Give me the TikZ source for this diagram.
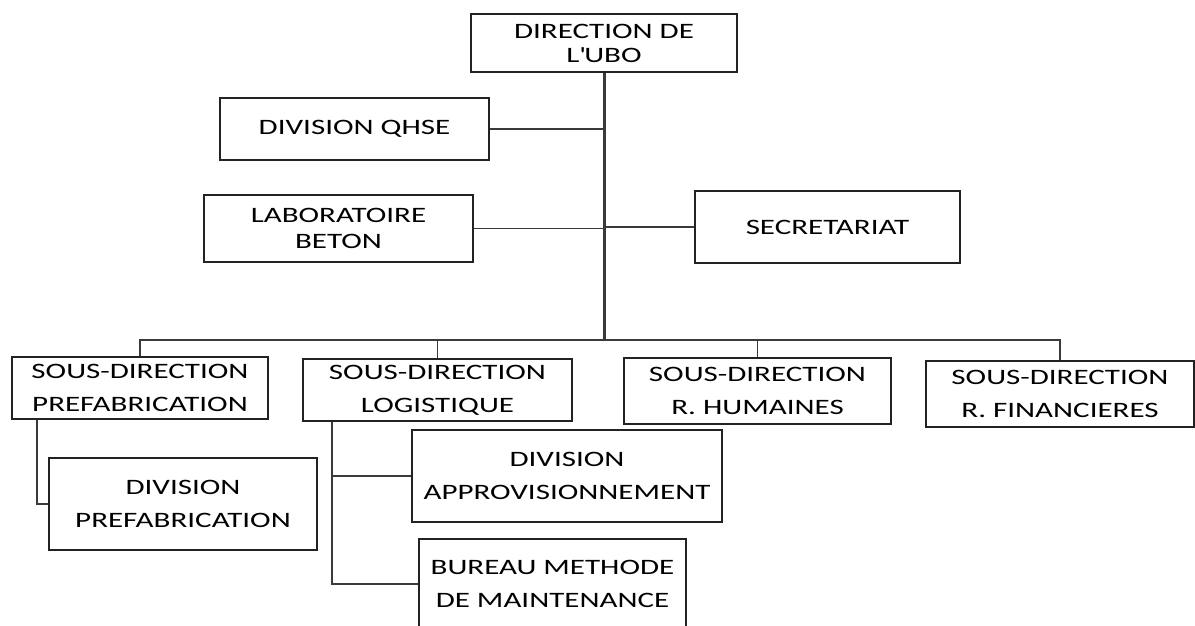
\documentclass[tikz,border=0pt]{standalone}
\usepackage{fontspec}
\newfontfamily\orgfont{Carlito}[FakeStretch=1.41]
\usetikzlibrary{calc}
\definecolor{boxline}{HTML}{222222}
\definecolor{linkline}{HTML}{3A3A3A}
\tikzset{
  orgbox/.style={draw=boxline, line width=1pt, inner sep=0pt, align=center,
    font=\orgfont\fontsize{11}{16.5}\selectfont, text=black},
  link/.style={draw=linkline, line width=0.6pt},
}

\begin{document}
\begin{tikzpicture}[x=0.5pt, y=-0.5pt]
  \clip (0,0) rectangle (1195,626);
  % direction and staff units
  \node[orgbox, minimum width=133pt, minimum height=29pt, font=\orgfont\fontsize{11}{12}\selectfont] (dir) at (604,43) {DIRECTION DE\\L\textquotesingle UBO};
  \node[orgbox, minimum width=134.5pt, minimum height=31pt] (qhse) at (354.5,129) {DIVISION QHSE};
  \node[orgbox, minimum width=134.5pt, minimum height=33.5pt, font=\orgfont\fontsize{11}{13}\selectfont] (labo) at (338.5,228.5) {LABORATOIRE\\BETON};
  \node[orgbox, minimum width=132.5pt, minimum height=36pt] (secr) at (827.5,227) {SECRETARIAT};
  % sub-directions
  \node[orgbox, minimum width=128pt, minimum height=31pt] (sdpre) at (140,388) {SOUS-DIRECTION\\PREFABRICATION};
  \node[orgbox, minimum width=134.5pt, minimum height=31pt] (sdlog) at (437.5,390) {SOUS-DIRECTION\\LOGISTIQUE};
  \node[orgbox, minimum width=133.5pt, minimum height=33pt] (sdrh) at (757.5,391) {SOUS-DIRECTION\\R. HUMAINES};
  \node[orgbox, minimum width=134pt, minimum height=33pt] (sdrf) at (1060,394) {SOUS-DIRECTION\\R. FINANCIERES};
  % divisions
  \node[orgbox, minimum width=134pt, minimum height=46pt] (divpre) at (183,504) {DIVISION\\PREFABRICATION};
  \node[orgbox, minimum width=155pt, minimum height=46pt] (appro) at (567,476) {DIVISION\\APPROVISIONNEMENT};
  \node[orgbox, minimum width=133.5pt, minimum height=45pt] (bureau) at (552.5,584) {BUREAU METHODE\\DE MAINTENANCE};

  \coordinate (bus) at (604,340);
  \draw[link] (qhse.east) -- (qhse.east -| dir.south);
  \draw[link] (labo.east) -- (labo.east -| dir.south);
  \draw[link] (secr.west) -- (secr.west -| dir.south);
  \draw[link] (sdpre.north) |- (bus) -| (sdrf.north);
  \draw[link] (sdlog.north) -- (sdlog.north |- bus);
  \draw[link] (sdrh.north) -- (sdrh.north |- bus);
  \draw[link] ($(sdpre.south west)+(26,0)$) |- (divpre.west);
  \draw[link] ($(sdlog.south west)+(30,0)$) |- (appro.west);
  \draw[link] ($(sdlog.south west)+(30,0)$) |- (bureau.west);
  \draw[link, line width=1.5pt] (dir.south) -- (bus);
\end{tikzpicture}
\end{document}
